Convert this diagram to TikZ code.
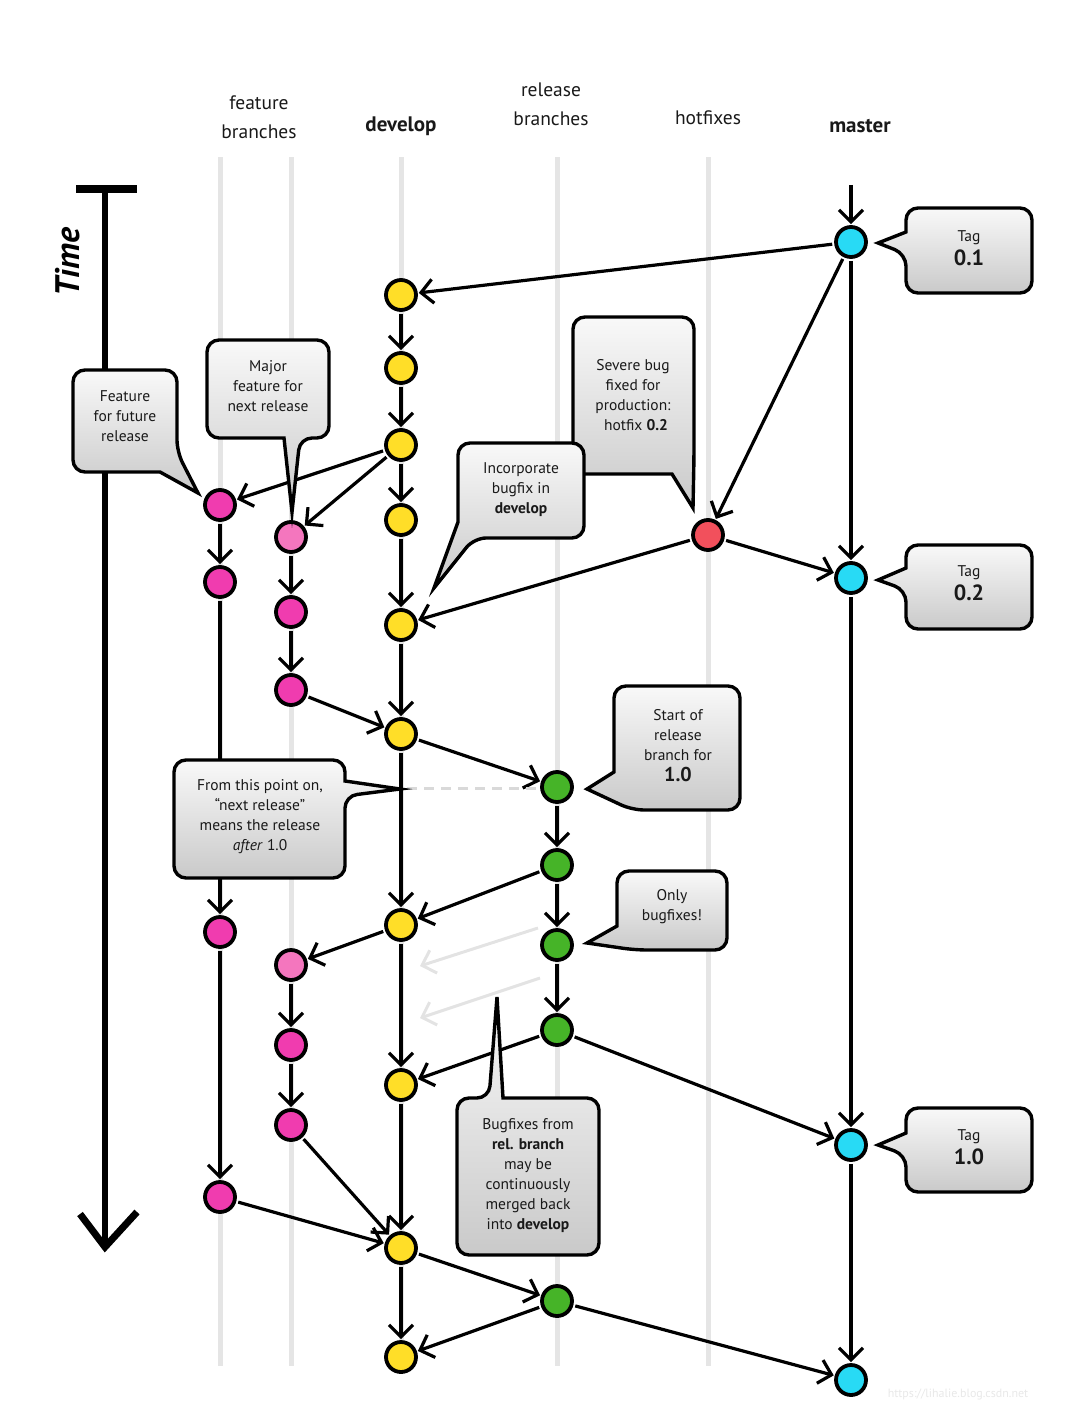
\documentclass[tikz,border=0pt]{standalone}
\usepackage{fontspec}
\setmainfont{PT Sans}
\usetikzlibrary{arrows.meta}
\definecolor{cyel}{RGB}{255,222,40}
\definecolor{cpink}{RGB}{240,60,175}
\definecolor{clpink}{RGB}{244,118,190}
\definecolor{cgreen}{RGB}{70,180,40}
\definecolor{ccyan}{RGB}{40,218,245}
\definecolor{cred}{RGB}{242,80,92}
\definecolor{ctxt}{RGB}{25,25,25}
\begin{document}
\begin{tikzpicture}[x=1pt,y=-1pt,
  commit/.style={circle,draw=black,line width=3.8pt,minimum size=30pt,inner sep=0pt},
  flow/.style={line width=3.2pt,-{Straight Barb[length=12pt,width=24pt,line width=3.2pt]},shorten >=1pt,shorten <=2pt},
  ghost/.style={line width=3pt,draw=gray!22,-{Straight Barb[length=12pt,width=24pt,line width=3pt]}},
  lane/.style={line width=5pt,draw=gray!20},
  bubble/.style={draw=black,line width=3.4pt,top color=gray!5,bottom color=gray!42},
  btxt/.style={font=\fontsize{15.5}{20}\selectfont,align=center,text=ctxt},
  head/.style={font=\fontsize{19.5}{29}\selectfont,align=center,text=ctxt},
  headb/.style={font=\fontsize{21}{29}\selectfont\bfseries,align=center,text=ctxt},
  tagtxt/.style={font=\fontsize{15.5}{24}\selectfont,align=center,text=ctxt}]
\useasboundingbox (0,0) rectangle (1085,1420);

% lanes
\foreach \x in {220,291,401,557,708} \draw[lane] (\x,157) -- (\x,1366);

% headers
\node[head] (hfeat) at (259,117) {feature\\branches};
\node[headb] (hdev) at (401,126) {develop};
\node[head] (hrel) at (551,104) {release\\branches};
\node[head] (hhot) at (708,118) {hotfixes};
\node[headb] (hmas) at (860,126) {master};

% time arrow
\coordinate (tt) at (105,189);
\coordinate (tb) at (105,1246);
\draw[line width=8pt] (76,189) -- (137,189);
\draw[line width=5.5pt] (tt) -- (tb);
\draw[line width=7pt,line join=miter] (80,1214) -- (105,1247) -- (137,1212);
\node[rotate=90,font=\fontsize{34}{34}\selectfont\bfseries\itshape] (time) at (68,262) {Time};

% commits
\node[commit,fill=ccyan] (m1) at (851,242) {};
\node[commit,fill=ccyan] (m2) at (851,578) {};
\node[commit,fill=ccyan] (m3) at (851,1145) {};
\node[commit,fill=ccyan] (m4) at (851,1380) {};
\node[commit,fill=cyel] (d1) at (401,295) {};
\node[commit,fill=cyel] (d2) at (401,368) {};
\node[commit,fill=cyel] (d3) at (401,445) {};
\node[commit,fill=cyel] (d4) at (401,520) {};
\node[commit,fill=cyel] (d5) at (401,625) {};
\node[commit,fill=cyel] (d6) at (401,734) {};
\node[commit,fill=cyel] (d7) at (401,925) {};
\node[commit,fill=cyel] (d8) at (401,1085) {};
\node[commit,fill=cyel] (d9) at (401,1248) {};
\node[commit,fill=cyel] (d10) at (401,1357) {};
\node[commit,fill=cpink] (fa1) at (220,505) {};
\node[commit,fill=cpink] (fa2) at (220,582) {};
\node[commit,fill=cpink] (fa3) at (220,932) {};
\node[commit,fill=cpink] (fa4) at (220,1197) {};
\node[commit,fill=clpink] (fb1) at (291,537) {};
\node[commit,fill=cpink] (fb2) at (291,612) {};
\node[commit,fill=cpink] (fb3) at (291,690) {};
\node[commit,fill=clpink] (fb4) at (291,965) {};
\node[commit,fill=cpink] (fb5) at (291,1045) {};
\node[commit,fill=cpink] (fb6) at (291,1125) {};
\node[commit,fill=cgreen] (r1) at (557,787) {};
\node[commit,fill=cgreen] (r2) at (557,865) {};
\node[commit,fill=cgreen] (r3) at (557,945) {};
\node[commit,fill=cgreen] (r4) at (557,1030) {};
\node[commit,fill=cgreen] (r5) at (557,1301) {};
\node[commit,fill=cred] (h1) at (708,535) {};

% connectors
\coordinate (mtop) at (851,183);
\draw[flow] (mtop) -- (m1);
\draw[flow] (m1) -- (m2);
\draw[flow] (m2) -- (m3);
\draw[flow] (m3) -- (m4);
\draw[flow] (m1) -- (d1);
\draw[flow] (m1) -- (h1);
\draw[flow] (h1) -- (m2);
\draw[flow] (h1) -- (d5);
\draw[flow] (d1) -- (d2);
\draw[flow] (d2) -- (d3);
\draw[flow] (d3) -- (d4);
\draw[flow] (d4) -- (d5);
\draw[flow] (d5) -- (d6);
\draw[flow] (d6) -- (d7);
\draw[flow] (d7) -- (d8);
\draw[flow] (d8) -- (d9);
\draw[flow] (d9) -- (d10);
\draw[flow] (d3) -- (fa1);
\draw[flow] (d3) -- (fb1);
\draw[flow] (fa1) -- (fa2);
\draw[flow] (fa2) -- (fa3);
\draw[flow] (fa3) -- (fa4);
\draw[flow] (fa4) -- (d9);
\draw[flow] (fb1) -- (fb2);
\draw[flow] (fb2) -- (fb3);
\draw[flow] (fb3) -- (d6);
\draw[flow] (d6) -- (r1);
\draw[flow] (r1) -- (r2);
\draw[flow] (r2) -- (r3);
\draw[flow] (r3) -- (r4);
\draw[flow] (r2) -- (d7);
\draw[flow] (d7) -- (fb4);
\draw[flow] (fb4) -- (fb5);
\draw[flow] (fb5) -- (fb6);
\draw[flow] (fb6) -- (d9);
\draw[flow] (r4) -- (d8);
\draw[flow] (r4) -- (m3);
\draw[flow] (d9) -- (r5);
\draw[flow] (r5) -- (d10);
\draw[flow] (r5) -- (m4);
\coordinate (g1a) at (538,928);
\coordinate (g1b) at (420,966);
\coordinate (g2a) at (540,978);
\coordinate (g2b) at (420,1018);
\draw[ghost] (g1a) -- (g1b);
\draw[ghost] (g2a) -- (g2b);
\coordinate (dsh1) at (407,788);
\coordinate (dsh2) at (536,788);
\draw[line width=3pt,draw=gray!30,dash pattern=on 10pt off 7pt] (dsh1) -- (dsh2);

% callouts
\shadedraw[bubble] (906,232) [rounded corners=12pt] -- (906,208) -- (1032,208) -- (1032,293) -- (906,293) -- (906,254) [sharp corners] -- (878,243) -- cycle;
\node[tagtxt] (tag1) at (969,248) {Tag\\{\fontsize{22}{24}\selectfont\bfseries 0.1}};
\shadedraw[bubble] (906,568) [rounded corners=12pt] -- (906,545) -- (1032,545) -- (1032,629) -- (906,629) -- (906,590) [sharp corners] -- (878,580) -- cycle;
\node[tagtxt] (tag2) at (969,583) {Tag\\{\fontsize{22}{24}\selectfont\bfseries 0.2}};
\shadedraw[bubble] (906,1133) [rounded corners=12pt] -- (906,1108) -- (1032,1108) -- (1032,1192) -- (906,1192) -- (906,1155) [sharp corners] -- (878,1145) -- cycle;
\node[tagtxt] (tag3) at (969,1147) {Tag\\{\fontsize{22}{24}\selectfont\bfseries 1.0}};

\shadedraw[bubble] (73,420) [rounded corners=12pt] -- (73,370) -- (177,370) -- (177,452) [sharp corners] -- (198,493) -- (160,472) [rounded corners=12pt] -- (73,472) -- cycle;
\node[btxt] (cfut) at (125,416) {Feature\\for future\\release};

\shadedraw[bubble] (207,390) [rounded corners=12pt] -- (207,340) -- (329,340) -- (329,438) -- (300,438) [sharp corners] -- (292,512) -- (284,438) [rounded corners=12pt] -- (207,438) -- cycle;
\node[btxt] (cmaj) at (268,386) {Major\\feature for\\next release};

\shadedraw[bubble] (573,400) [rounded corners=12pt] -- (573,317) -- (694,317) -- (694,456) [sharp corners] -- (693,508) -- (672,474) [rounded corners=12pt] -- (573,474) -- cycle;
\node[btxt] (csev) at (633,395) {Severe bug\\fixed for\\production:\\\hspace*{6pt}hotfix \textbf{0.2}};

\shadedraw[bubble] (458,490) [rounded corners=12pt] -- (458,443) -- (584,443) -- (584,538) -- (474,538) [sharp corners] -- (434,588) -- (458,522) [rounded corners=12pt] -- cycle;
\node[btxt] (cinc) at (521,490) {Incorporate\\bugfix in\\\textbf{develop}};

\shadedraw[bubble] (614,750) [rounded corners=12pt] -- (614,686) -- (740,686) -- (740,810) -- (632,810) [sharp corners] -- (587,789) -- (614,772) [rounded corners=12pt] -- cycle;
\node[btxt] (cstart) at (678,746) {Start of\\release\\branch for\\[1pt]{\fontsize{20}{22}\selectfont\bfseries 1.0}};

\shadedraw[bubble] (617,900) [rounded corners=12pt] -- (617,871) -- (727,871) -- (727,950) -- (635,950) [sharp corners] -- (587,943) -- (617,926) [rounded corners=12pt] -- cycle;
\node[btxt] (conly) at (672,907) {Only\\bugfixes!};

\shadedraw[bubble] (345,781) [rounded corners=12pt] -- (345,760) -- (174,760) -- (174,878) -- (345,878) -- (345,796) [sharp corners] -- (400,789) -- cycle;
\node[btxt] (cfrom) at (260,817) {From this point on,\\“next release”\\means the release\\\textit{after} 1.0};

\shadedraw[bubble] (540,1098) [rounded corners=12pt] -- (599,1098) -- (599,1255) -- (457,1255) -- (457,1098) -- (489,1098) [sharp corners] -- (497,997) -- (503,1098) [rounded corners=12pt] -- cycle;
\node[btxt] (cbug) at (528,1176) {Bugfixes from\\\textbf{rel. branch}\\may be\\continuously\\merged back\\into \textbf{develop}};

% watermark
\node[font=\fontsize{12}{12}\selectfont,text=gray!18] (wm) at (958,1394) {https://lihalie.blog.csdn.net};
\end{tikzpicture}
\end{document}
